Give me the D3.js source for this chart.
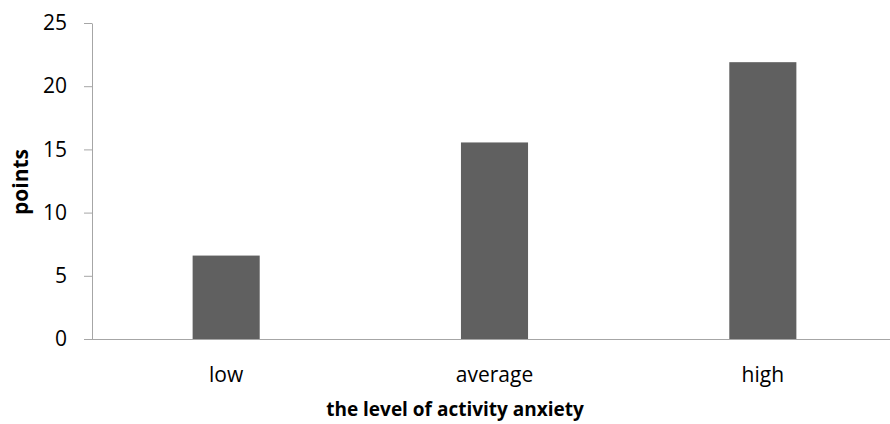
<!DOCTYPE html>
<html>
<head>
<meta charset="utf-8">
<script src="https://cdn.jsdelivr.net/npm/d3@7"></script>
<style>
  body { margin: 0; background: #fff; }
  svg text { font-family: "Open Sans", Lato, sans-serif; fill: #000; }
</style>
</head>
<body>
<div id="chart"></div>
<script>
// chart data
const categories = ["low", "average", "high"];
const values = [6.6, 15.55, 21.9];
const yTicks = [0, 5, 10, 15, 20, 25];

const width = 890, height = 424;

const svg = d3.select("#chart")
    .append("svg")
    .attr("width", width)
    .attr("height", height);

const x = d3.scaleBand()
    .domain(categories)
    .range([92, 897])
    .paddingInner(0.75)
    .paddingOuter(0.375);

const y = d3.scaleLinear()
    .domain([0, 25])
    .range([339, 23]);

// bars
svg.selectAll("rect.bar")
    .data(values)
    .enter()
    .append("rect")
    .attr("class", "bar")
    .attr("x", (d, i) => x(categories[i]))
    .attr("y", d => y(d))
    .attr("width", x.bandwidth())
    .attr("height", d => y(0) - y(d))
    .attr("fill", "#606060");

// y axis
const yAxis = svg.append("g")
    .attr("transform", "translate(92,0)")
    .call(d3.axisLeft(y).tickValues(yTicks).tickSize(8).tickPadding(17).tickSizeOuter(0));
yAxis.select(".domain").attr("stroke", "#a6a6a6");
yAxis.selectAll(".tick line").attr("stroke", "#a6a6a6");
yAxis.selectAll(".tick text").attr("font-size", 21).attr("font-family", "Open Sans");

// x axis
const xAxis = svg.append("g")
    .attr("transform", "translate(0,339)")
    .call(d3.axisBottom(x).tickSize(0));
xAxis.select(".domain").attr("stroke", "#a6a6a6").attr("d", "M84,0.5H890");
xAxis.selectAll(".tick text")
    .attr("font-size", 21)
    .attr("font-family", "Open Sans")
    .attr("y", 43)
    .attr("dy", 0);

// axis titles
svg.append("text")
    .attr("x", 455)
    .attr("y", 416)
    .attr("text-anchor", "middle")
    .attr("font-size", 19)
    .attr("font-weight", "bold")
    .text("the level of activity anxiety");

svg.append("text")
    .attr("transform", "translate(28,182) rotate(-90)")
    .attr("text-anchor", "middle")
    .attr("font-size", 21)
    .attr("font-weight", "bold")
    .text("points");
</script>
</body>
</html>
